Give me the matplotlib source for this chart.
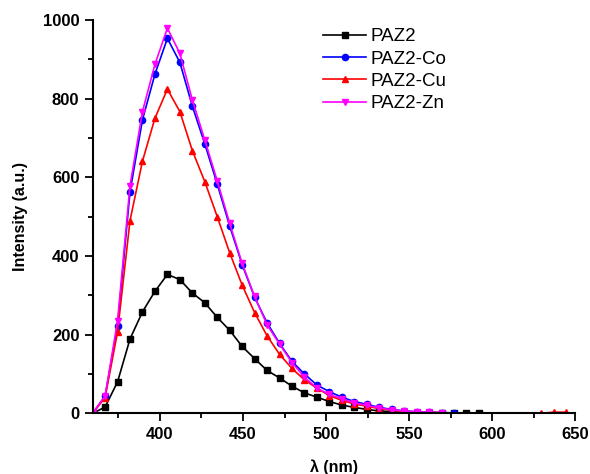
import matplotlib.pyplot as plt
import numpy as np
from matplotlib.ticker import MultipleLocator

# wavelength grid of the plotted points (nm)
wavelength = [359.5, 367, 374.5, 382, 389.5, 397, 404.5, 412, 419.5, 427,
              434.5, 442, 449.5, 457, 464.5, 472, 479.5, 487, 494.5, 502,
              509.5, 517, 524.5, 532, 539.5, 547, 554.5, 562, 569.5, 577,
              584.5, 592, 599.5, 607, 614.5, 622, 629.5, 637, 644.5]

nan = np.nan
paz2 = [0, 16, 80, 189, 258, 310, 353, 340, 306, 281,
        244, 211, 170, 139, 109, 90, 69, 52, 41, 30,
        21, 15, 10, 6, 4, 2, 1, 1, 1, 1,
        1, 1, nan, nan, nan, nan, nan, nan, nan]
paz2_co = [0, 44, 222, 563, 746, 862, 953, 892, 781, 685,
           583, 476, 378, 295, 230, 178, 132, 100, 72, 55,
           41, 30, 23, 15, 10, 6, 4, 3, 2, 1,
           nan, nan, nan, nan, nan, nan, nan, nan, nan]
paz2_cu = [0, 40, 207, 490, 641, 750, 824, 767, 668, 589,
           500, 408, 326, 256, 197, 150, 114, 85, 64, 45,
           33, 24, 18, 12, 8, 5, 3, 2, 2, nan,
           nan, nan, nan, nan, nan, nan, 0, 3, 3]
paz2_zn = [0, 44, 235, 579, 767, 887, 979, 915, 797, 695,
           591, 483, 381, 297, 225, 176, 129, 92, 64, 48,
           37, 27, 20, 14, 9, 6, 4, 3, 2, nan,
           nan, nan, nan, nan, nan, nan, nan, nan, nan]

labels = ["PAZ2", "PAZ2-Co", "PAZ2-Cu", "PAZ2-Zn"]
colors = ["black", "#0000ff", "#ff0000", "#ff00ff"]
markers = ["s", "o", "^", "v"]

plt.rcParams["font.family"] = ["Liberation Sans", "DejaVu Sans"]

fig = plt.figure(figsize=(5.9, 4.74), dpi=100)
ax = fig.add_axes([0.157, 0.128, 0.818, 0.830])

x = np.array(wavelength)
for ys, lab, c, m in zip([paz2, paz2_co, paz2_cu, paz2_zn], labels, colors, markers):
    y = np.array(ys, dtype=float)
    ax.plot(x, y, color=c, marker=m, markersize=4.5, linewidth=1.2, label=lab)

ax.set_xlim(359.5, 650)
ax.set_ylim(0, 1000)
ax.xaxis.set_major_locator(MultipleLocator(50))
ax.xaxis.set_minor_locator(MultipleLocator(25))
ax.yaxis.set_major_locator(MultipleLocator(200))
ax.yaxis.set_minor_locator(MultipleLocator(100))

for side in ["top", "right"]:
    ax.spines[side].set_visible(False)
for side in ["left", "bottom"]:
    ax.spines[side].set_linewidth(1.5)

ax.tick_params(which="major", direction="out", length=6, width=1.3, labelsize=12)
ax.tick_params(which="minor", direction="out", length=3.5, width=1.3)
for lbl in ax.get_xticklabels() + ax.get_yticklabels():
    lbl.set_fontweight("bold")

ax.set_xlabel("λ (nm)", fontsize=11.5, fontweight="bold", labelpad=13)
ax.set_ylabel("Intensity (a.u.)", fontsize=11.5, fontweight="bold", labelpad=11)

ax.legend(loc="upper left", bbox_to_anchor=(323 / 590, 1 - 28 / 474),
          bbox_transform=fig.transFigure, frameon=False, fontsize=13.5,
          borderpad=0, borderaxespad=0, handlelength=2.3, handletextpad=0.25,
          labelspacing=0.28)

fig.savefig("out.png", dpi=100)
